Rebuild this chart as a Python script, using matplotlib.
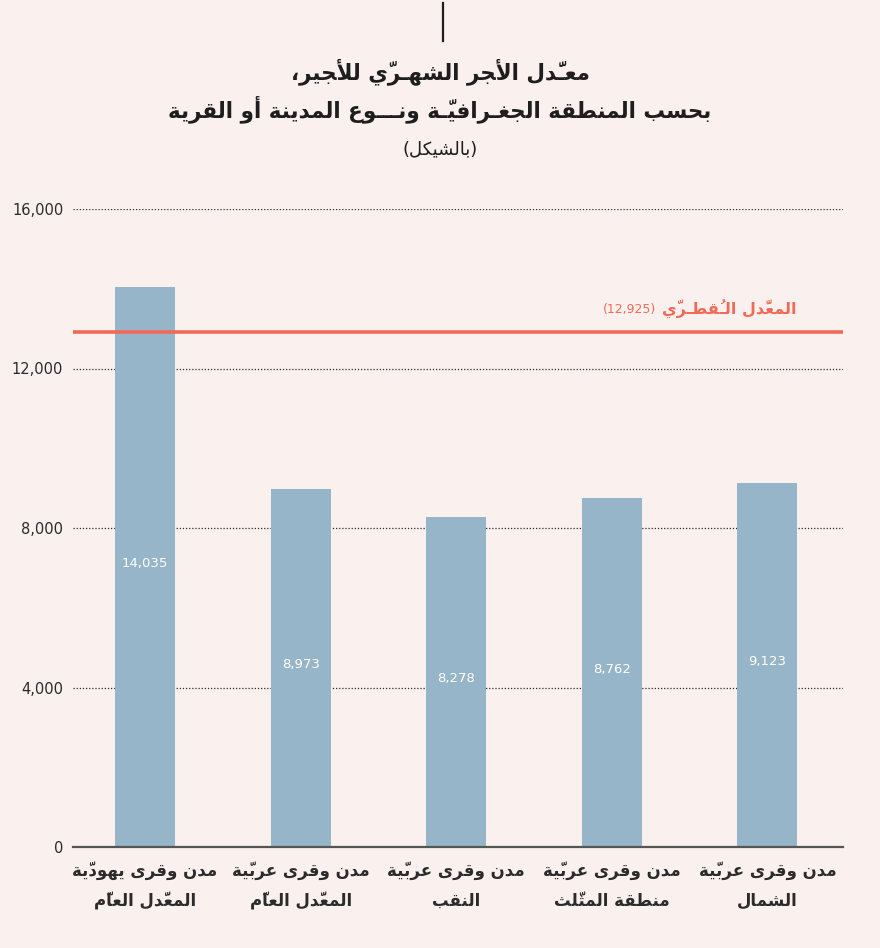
import matplotlib
matplotlib.use('Agg')
import matplotlib.pyplot as plt
from matplotlib.ticker import FuncFormatter

# chart data
categories = [
    'مدن وقرى يهوديّة\nالمعدَّل العامّ',
    'مدن وقرى عربيّة\nالمعدَّل العامّ',
    'مدن وقرى عربيّة\nالنقب',
    'مدن وقرى عربيّة\nمنطقة المثلّث',
    'مدن وقرى عربيّة\nالشمال',
]
wages = [14035, 8973, 8278, 8762, 9123]
national_avg = 12925
avg_label = 'المعدَّل الـقُطـريّ'
y_ticks = [0, 4000, 8000, 12000, 16000]
title_lines = ['معـدَّل الأجر الشهـريّ للأجير،', 'بحسب المنطقة الجغـرافيـّة ونـــوع المدينة أو القرية']
subtitle = '(بالشيكل)'

BG = '#faf1ef'
BAR = '#97b5c8'
RED = '#f06a57'
DARK = '#2b2b2b'

# --- minimal arabic shaping (matplotlib has no complex text layout) ---
DUAL = {'ئ': 0xFE89, 'ب': 0xFE8F, 'ت': 0xFE95, 'ث': 0xFE99, 'ج': 0xFE9D, 'ح': 0xFEA1,
        'خ': 0xFEA5, 'س': 0xFEB1, 'ش': 0xFEB5, 'ص': 0xFEB9, 'ض': 0xFEBD, 'ط': 0xFEC1,
        'ظ': 0xFEC5, 'ع': 0xFEC9, 'غ': 0xFECD, 'ف': 0xFED1, 'ق': 0xFED5, 'ك': 0xFED9,
        'ل': 0xFEDD, 'م': 0xFEE1, 'ن': 0xFEE5, 'ه': 0xFEE9, 'ي': 0xFEF1}
RIGHT = {'آ': 0xFE81, 'أ': 0xFE83, 'ؤ': 0xFE85, 'إ': 0xFE87, 'ا': 0xFE8D, 'ة': 0xFE93,
         'د': 0xFEA9, 'ذ': 0xFEAB, 'ر': 0xFEAD, 'ز': 0xFEAF, 'و': 0xFEED, 'ى': 0xFEEF}
LAMALEF = {'آ': 0xFEF5, 'أ': 0xFEF7, 'إ': 0xFEF9, 'ا': 0xFEFB}
TATWEEL = 'ـ'
MIRROR = {'(': ')', ')': '('}


def is_mark(c):
    return '\u064B' <= c <= '\u0652'


def joins_next(c):
    return c in DUAL or c == TATWEEL


def joins_prev(c):
    return c in DUAL or c in RIGHT or c == TATWEEL


def shape(text):
    # group into clusters of base + marks
    clusters = []
    for c in text:
        if is_mark(c) and clusters:
            clusters[-1][1].append(c)
        else:
            clusters.append([c, []])
    # merge lam + alef
    merged = []
    i = 0
    while i < len(clusters):
        b, m = clusters[i]
        if b == 'ل' and i + 1 < len(clusters) and clusters[i + 1][0] in LAMALEF:
            merged.append(['LA' + clusters[i + 1][0], m + clusters[i + 1][1]])
            i += 2
        else:
            merged.append([b, m])
            i += 1
    out = []
    for i, (b, m) in enumerate(merged):
        prev = merged[i - 1][0] if i > 0 else ''
        nxt = merged[i + 1][0] if i + 1 < len(merged) else ''
        prev = 'ل' if prev.startswith('LA') else prev
        nxt = 'ل' if nxt.startswith('LA') else nxt
        p = joins_next(prev) if prev else False
        if b.startswith('LA'):
            ch = chr(LAMALEF[b[2]] + (1 if p else 0))
        elif b in DUAL:
            n = joins_prev(nxt) if nxt else False
            ch = chr(DUAL[b] + (3 if p and n else 1 if p else 2 if n else 0))
        elif b in RIGHT:
            ch = chr(RIGHT[b] + (1 if p else 0))
        else:
            ch = b
        out.append(ch + ''.join(m))
    # visual order: reverse clusters, keep digit runs in place
    vis = []
    run = []
    for cl in out:
        if cl[0].isdigit() or (run and cl[0] in ',.'):
            run.append(cl)
        else:
            if run:
                vis.append(''.join(run))
                run = []
            vis.append(MIRROR.get(cl, cl))
    if run:
        vis.append(''.join(run))
    return ''.join(vis[::-1])


def shape_lines(text):
    return '\n'.join(shape(t) for t in text.split('\n'))


plt.rcParams['font.family'] = ['DejaVu Sans']

fig = plt.figure(figsize=(8.8, 9.48), dpi=100, facecolor=BG)
ax = fig.add_axes([73 / 880, 1 - 847 / 948, 770 / 880, 638 / 948])
ax.set_facecolor(BG)

x = list(range(len(wages)))
ax.bar(x, wages, width=0.386, color=BAR, zorder=2)
for xi, v in zip(x, wages):
    ax.text(xi, v / 2 + 80, f'{v:,}', color='white', ha='center', va='center', fontsize=9.5, zorder=3)

ax.set_xlim(-0.463, 4.486)
ax.set_ylim(0, 16000)
ax.set_yticks(y_ticks)
ax.yaxis.set_major_formatter(FuncFormatter(lambda v, p: f'{int(v):,}'))
ax.tick_params(axis='y', length=0, pad=7, labelsize=10.5, labelcolor=DARK)
ax.grid(axis='y', linestyle=(0, (1, 1.5)), color=DARK, linewidth=0.9, zorder=1)
for s in ['top', 'right', 'left']:
    ax.spines[s].set_visible(False)
ax.spines['bottom'].set_color('#555555')
ax.spines['bottom'].set_linewidth(1.6)
ax.spines['bottom'].set_zorder(4)

ax.set_xticks(x)
ax.set_xticklabels([shape_lines(c) for c in categories], fontsize=12, fontweight='bold',
                   color=DARK, linespacing=1.9)
ax.tick_params(axis='x', length=0, pad=10)

# national average line
ax.axhline(national_avg, color=RED, linewidth=2.6, zorder=3)
lab = ax.text(4.19, national_avg + 560, shape(avg_label), color=RED, fontsize=11.5,
              fontweight='bold', ha='right', va='center')
fig.canvas.draw()
bb = lab.get_window_extent()
fig.text((bb.x0 - 6) / 880, (bb.y0 + bb.y1) / 2 / 948, f'({national_avg:,})', color=RED,
         fontsize=9, ha='right', va='center')

# titles
fig.text(0.5, 1 - 72 / 948, shape(title_lines[0]), ha='center', va='center', fontsize=15.5,
         fontweight='bold', color='#1e1e1e')
fig.text(0.5, 1 - 109 / 948, shape(title_lines[1]), ha='center', va='center', fontsize=15.5,
         fontweight='bold', color='#1e1e1e')
fig.text(0.5, 1 - 149 / 948, shape(subtitle), ha='center', va='center', fontsize=13,
         color='#1e1e1e')

# small marker line at top centre
fig.add_artist(plt.Line2D([443 / 880, 443 / 880], [1 - 3 / 948, 1 - 41 / 948],
                          color='#1e1e1e', linewidth=1.6))

fig.savefig('out.png', dpi=100, facecolor=BG)
